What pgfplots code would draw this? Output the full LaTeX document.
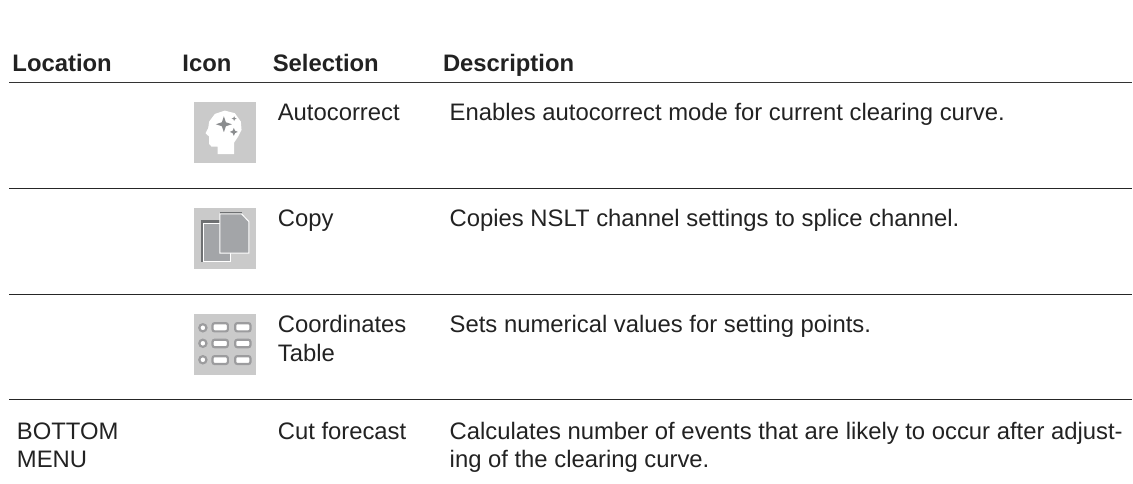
\documentclass[border=0pt]{standalone}
\usepackage{pgfplots}
\pgfplotsset{compat=1.18}
\usepackage{fontspec}
\setmainfont{Liberation Sans}
\definecolor{tx}{HTML}{222222}
\definecolor{ibg}{HTML}{CACACA}
\definecolor{ig}{HTML}{8A8C8E}
\definecolor{cg}{HTML}{9C9C9E}
\definecolor{pg}{HTML}{A3A5A8}
\definecolor{pd}{HTML}{6E7072}
\tikzset{txt/.style={font=\fontsize{23.85pt}{28pt}\selectfont,text=tx,anchor=base west,inner sep=0pt,outer sep=0pt},
 hdr/.style={font=\bfseries\fontsize{23.85pt}{28pt}\selectfont,text=tx,anchor=base west,inner sep=0pt,outer sep=0pt}}
\pgfplotsset{rule/.style={draw=black!85,line width=1pt,forget plot},
 hrule/.style={draw=black!80,line width=1.5pt,forget plot},
 cell/.style={draw=cg,line width=2.2pt,fill=white,rounded corners=2pt,forget plot}}
\begin{document}
\begin{tikzpicture}
\begin{axis}[scale only axis,width=1133pt,height=484pt,xmin=0,xmax=1133,ymin=0,ymax=484,y dir=reverse,hide axis,clip=false]
\path (axis cs:0,0) rectangle (axis cs:1133,484);
% rules
\addplot[hrule] coordinates {(9.5,82.7) (179,82.7)};
\addplot[hrule] coordinates {(179.6,82.7) (270,82.7)};
\addplot[hrule] coordinates {(270.6,82.7) (440,82.7)};
\addplot[hrule] coordinates {(440.6,82.7) (1133,82.7)};
\addplot[rule] coordinates {(9.5,188.5) (179,188.5)};
\addplot[rule] coordinates {(179.6,188.5) (270,188.5)};
\addplot[rule] coordinates {(270.6,188.5) (440,188.5)};
\addplot[rule] coordinates {(440.6,188.5) (1133,188.5)};
\addplot[rule] coordinates {(9.5,294.3) (179,294.3)};
\addplot[rule] coordinates {(179.6,294.3) (270,294.3)};
\addplot[rule] coordinates {(270.6,294.3) (440,294.3)};
\addplot[rule] coordinates {(440.6,294.3) (1133,294.3)};
\addplot[rule] coordinates {(9.5,400.2) (179,400.2)};
\addplot[rule] coordinates {(179.6,400.2) (270,400.2)};
\addplot[rule] coordinates {(270.6,400.2) (440,400.2)};
\addplot[rule] coordinates {(440.6,400.2) (1133,400.2)};
% header
\node[hdr] at (axis cs:12.5,71.5) {Location};
\node[hdr] at (axis cs:182.5,71.5) {Icon};
\node[hdr] at (axis cs:273,71.5) {Selection};
\node[hdr] at (axis cs:443.3,71.5) {Description};
% rows
\node[txt] at (axis cs:278,121) {Autocorrect};
\node[txt] at (axis cs:450,121) {Enables autocorrect mode for current clearing curve.};
\node[txt] at (axis cs:278,227) {Copy};
\node[txt] at (axis cs:450,227) {Copies NSLT channel settings to splice channel.};
\node[txt] at (axis cs:278,333) {Coordinates};
\node[txt] at (axis cs:278,361.3) {Table};
\node[txt] at (axis cs:450,333) {Sets numerical values for setting points.};
\node[txt] at (axis cs:17,439.3) {BOTTOM};
\node[txt] at (axis cs:17,467.7) {MENU};
\node[txt] at (axis cs:278,439.3) {Cut forecast};
\node[txt] at (axis cs:450,439.3) {Calculates number of events that are likely to occur after adjust-};
\node[txt] at (axis cs:450,467.7) {ing of the clearing curve.};
% icon 1
\addplot[draw=none,fill=ibg,forget plot] coordinates {(194,102) (256,102) (256,163) (194,163)} --cycle;
\addplot[draw=none,fill=white,forget plot] coordinates {(217.7,154.3) (217.7,146.7) (211.7,146.7) (209.3,144) (209.3,136.7) (205.7,133.3) (208.3,128.3) (209.3,121.7) (215,114) (225,110.7) (235,113.3) (241,121.7) (241.7,130) (238.3,136.7) (234.3,142.7) (234.3,154.3)} --cycle;
\addplot[draw=none,fill=ig,forget plot] coordinates {(224,116.3) (226,122.3) (232,124.3) (226,126.3) (224,132.3) (222,126.3) (216,124.3) (222,122.3)} --cycle;
\addplot[draw=none,fill=ig,forget plot] coordinates {(234,128) (235.2,130.8) (238,132) (235.2,133.2) (234,136) (232.8,133.2) (230,132) (232.8,130.8)} --cycle;
\addplot[draw=none,fill=ig,forget plot] coordinates {(234.3,116.2) (235,118) (236.8,118.7) (235,119.4) (234.3,121.2) (233.6,119.4) (231.8,118.7) (233.6,118)} --cycle;
% icon 2
\addplot[draw=none,fill=ibg,forget plot] coordinates {(194,208) (256,208) (256,269) (194,269)} --cycle;
\addplot[draw=none,fill=pd,forget plot] coordinates {(200.7,220) (222,220) (222,261.7) (200.7,261.7)} --cycle;
\addplot[draw=white,line width=1pt,fill=pg,forget plot] coordinates {(203.3,223.3) (230.7,223.3) (230.7,261.7) (203.3,261.7)} --cycle;
\addplot[draw=none,fill=pd,forget plot] coordinates {(220,211.7) (241.7,211.7) (241.7,218) (220,218)} --cycle;
\addplot[draw=white,line width=1pt,fill=pg,forget plot] coordinates {(220,214) (241.7,214) (249,221.7) (249,253.3) (220,253.3)} --cycle;
% icon 3
\addplot[draw=none,fill=ibg,forget plot] coordinates {(194,314) (256,314) (256,375) (194,375)} --cycle;
\addplot[only marks,forget plot,mark=*,mark size=3.6pt,mark options={draw=cg,line width=2.2pt,fill=white}] coordinates {(203,328) (203,343.5) (203,360)};
\addplot[cell] coordinates {(212.7,323.4) (228,323.4) (228,331.6) (212.7,331.6)} --cycle;
\addplot[cell] coordinates {(235.4,323.4) (250.6,323.4) (250.6,331.6) (235.4,331.6)} --cycle;
\addplot[cell] coordinates {(212.7,340) (228,340) (228,347.4) (212.7,347.4)} --cycle;
\addplot[cell] coordinates {(235.4,340) (250.6,340) (250.6,347.4) (235.4,347.4)} --cycle;
\addplot[cell] coordinates {(212.7,356.4) (228,356.4) (228,364.2) (212.7,364.2)} --cycle;
\addplot[cell] coordinates {(235.4,356.4) (250.6,356.4) (250.6,364.2) (235.4,364.2)} --cycle;
\end{axis}
\end{tikzpicture}
\end{document}
